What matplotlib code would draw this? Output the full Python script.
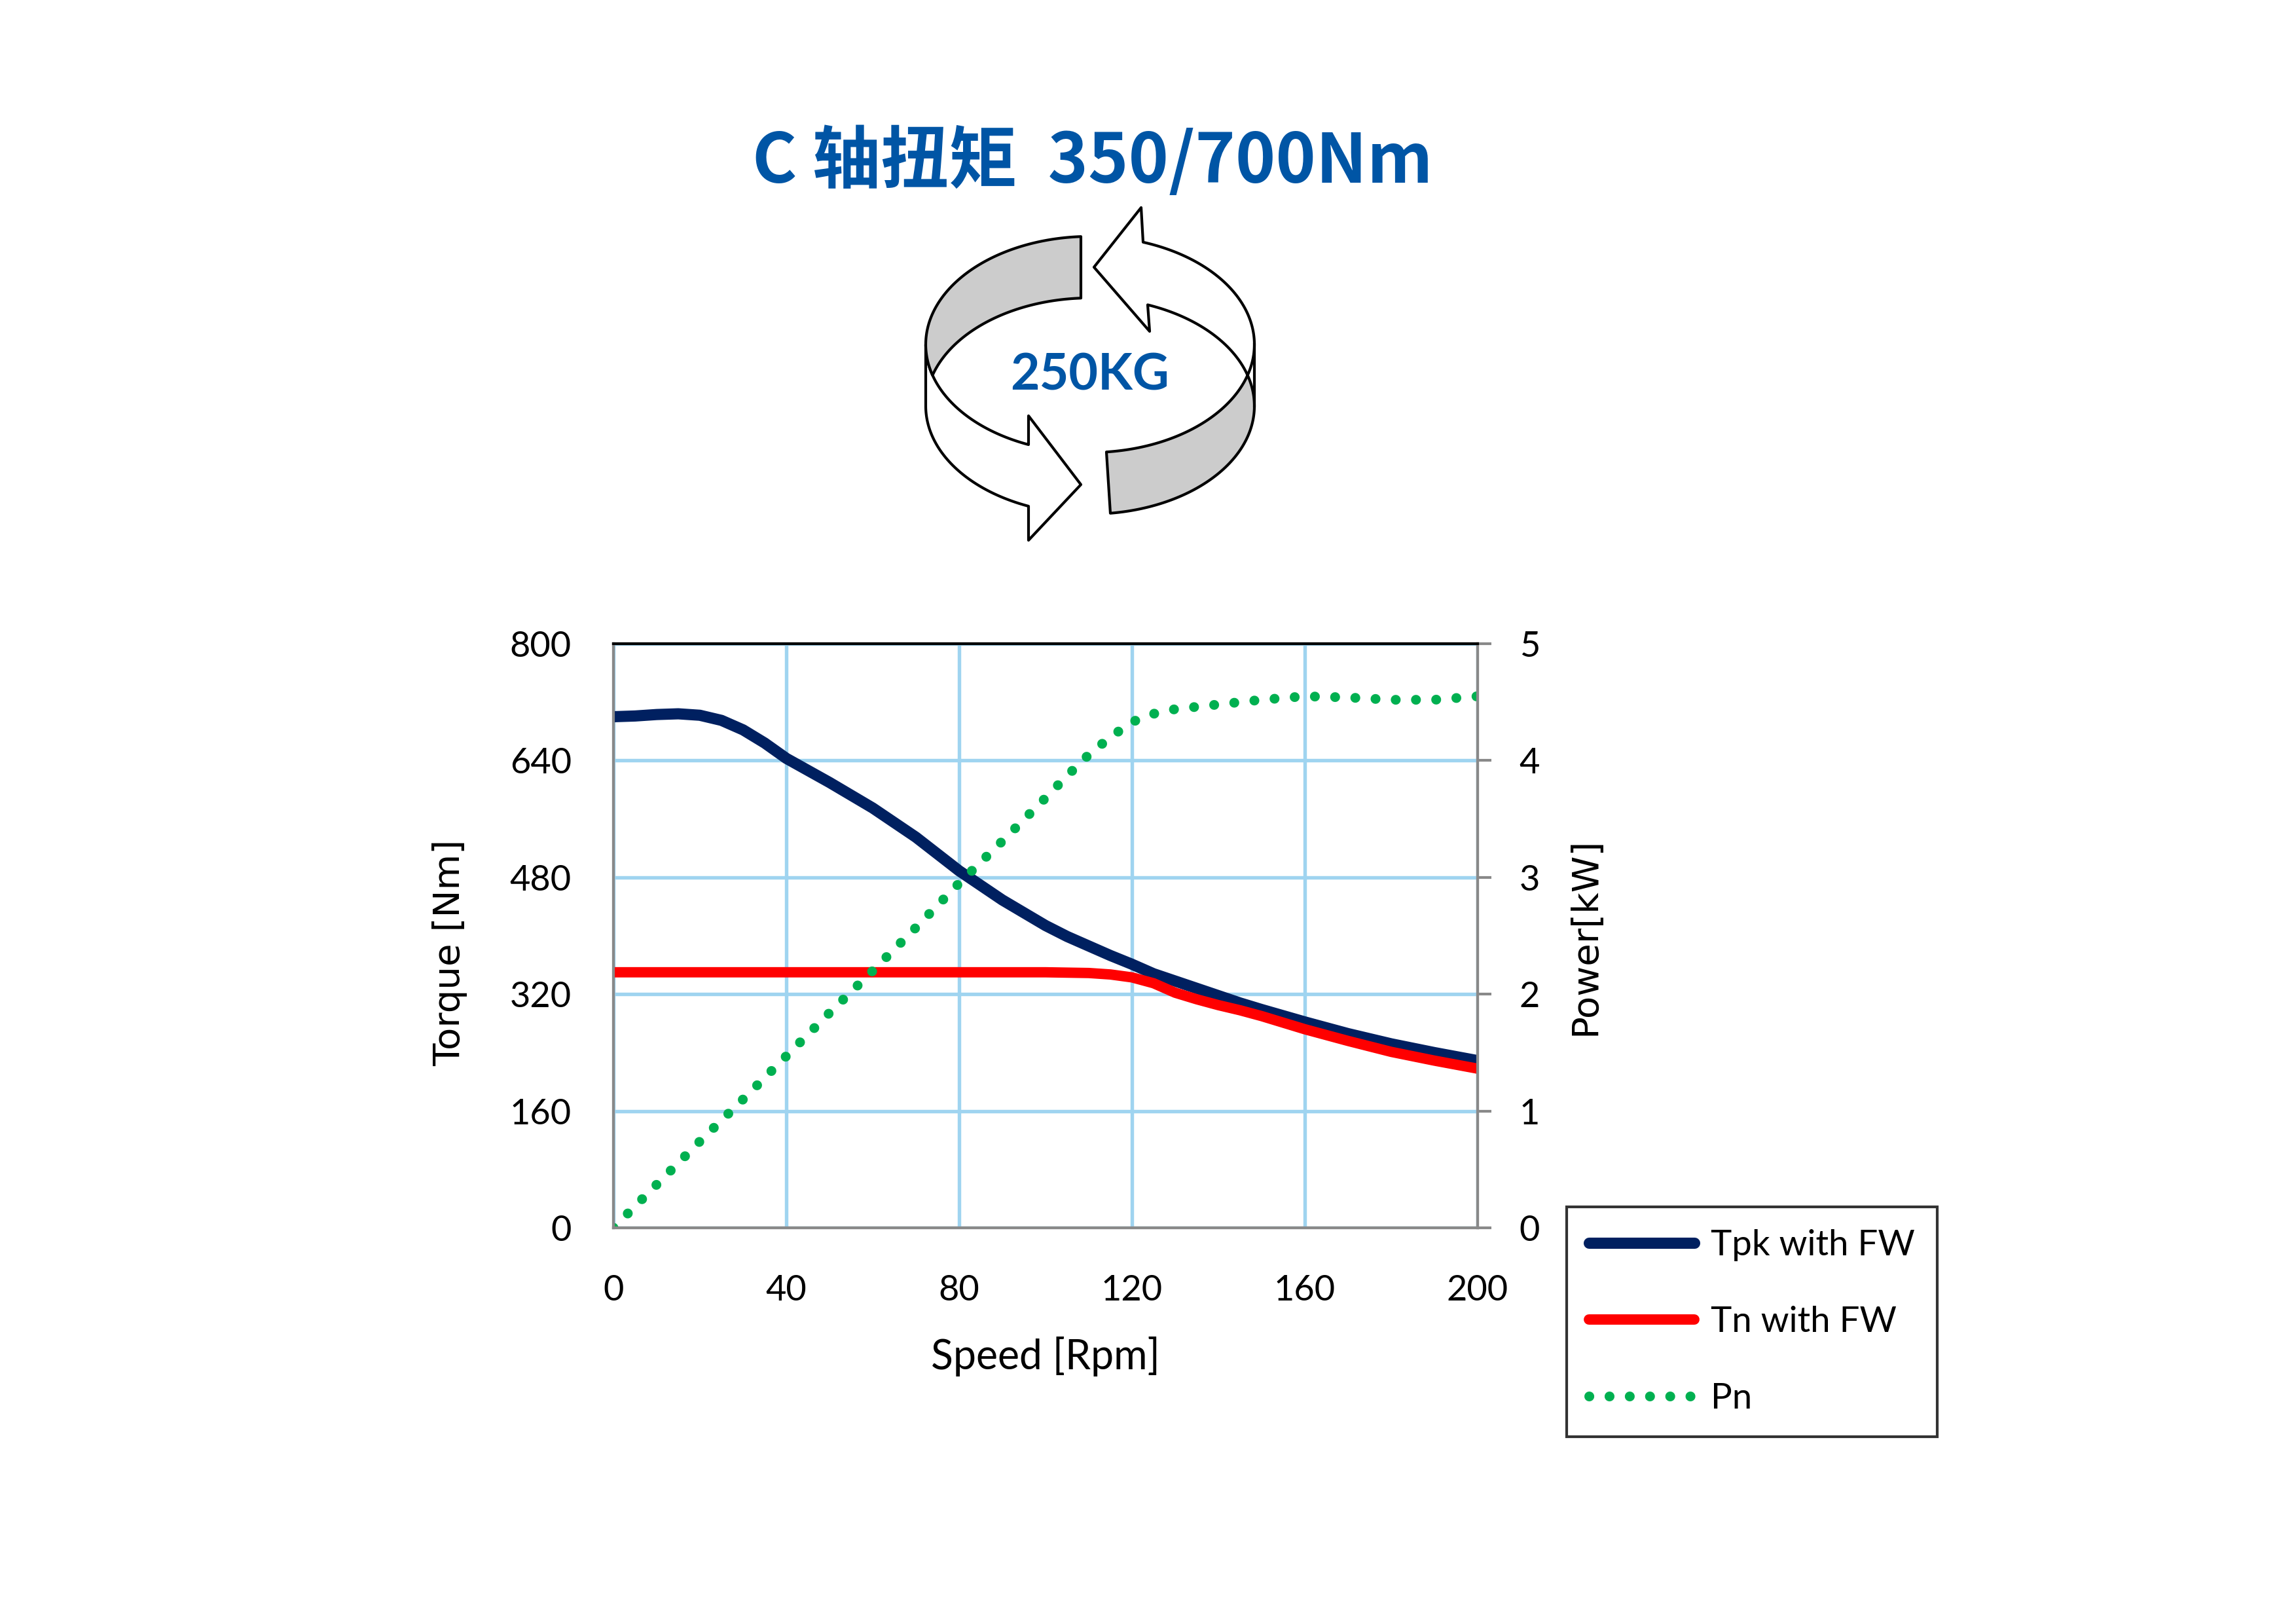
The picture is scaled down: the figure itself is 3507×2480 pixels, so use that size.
import numpy as np
import matplotlib.pyplot as plt
from matplotlib.patches import Polygon

plt.rcParams["font.family"] = ["Lato", "DejaVu Sans"]

W, H, DPI = 3507, 2480, 300

# curves
speed = [0, 5, 10, 15, 20, 25, 30, 35, 40, 50, 60, 70, 80, 90, 100, 105,
         110, 115, 120, 125, 130, 135, 140, 145, 150, 160, 170, 180, 190, 200]
tpk = [700, 701, 703, 704, 702, 695, 682, 664, 643, 610, 575, 535, 489, 449,
       414, 399, 386, 373, 361, 348, 338, 328, 318, 308, 299, 282, 266, 252,
       240, 229]
tn = [350, 350, 350, 350, 350, 350, 350, 350, 350, 350, 350, 350, 350, 350,
      350, 349.5, 349, 347, 343, 335, 322, 313, 305, 298, 290, 272, 256, 241,
      229, 218]
power_speed = [0, 10, 20, 30, 40, 50, 60, 70, 80, 90, 100, 105, 110, 115,
               120, 125, 130, 140, 150, 160, 170, 180, 190, 200]
pn = [0, 0.37, 0.74, 1.10, 1.47, 1.84, 2.20, 2.57, 2.95, 3.31, 3.68, 3.87,
      4.05, 4.20, 4.33, 4.40, 4.44, 4.48, 4.52, 4.55, 4.54, 4.52, 4.52, 4.55]

speed_ticks = [0, 40, 80, 120, 160, 200]
torque_ticks = [0, 160, 320, 480, 640, 800]
power_ticks = [0, 1, 2, 3, 4, 5]

BLUE = "#0055A5"
GRID = "#9FD4F0"
SPINE = "#898989"


def fx(px):
    return px / W


def fy(py):
    return 1 - py / H


fig = plt.figure(figsize=(W / DPI, H / DPI), dpi=DPI)

# --- rotating-arrow decoration, drawn in pixel coordinates ---
deco = fig.add_axes([0, 0, 1, 1])
deco.set_xlim(0, W)
deco.set_ylim(H, 0)
deco.axis("off")

CX, CY, A, B, HB = 1665, 526, 251, 165, 94
S = np.arcsin(HB / (2 * B))


def arc(t0, t1, dy=0, n=90):
    t = np.linspace(t0, t1, n)
    return np.column_stack([CX + A * np.cos(t), CY + dy + B * np.sin(t)])


def t_back(x):
    return 2 * np.pi - np.arccos((x - CX) / A)


def t_front(x):
    return np.arccos((x - CX) / A)


pi = np.pi
gray_ul = np.vstack([arc(pi, t_back(1651)), arc(t_back(1651), pi + S, HB),
                     arc(pi - S, pi)])
white_l = np.vstack([arc(pi, t_front(1571)),
                     [[1571, 635], [1651, 740], [1571, 825]],
                     arc(t_front(1571), pi, HB)])
white_ur = np.vstack([arc(t_back(1746), 2 * pi), arc(0, S),
                      arc(2 * pi - S, t_back(1753), HB),
                      [[1756, 506], [1671, 408], [1743, 317]]])
gray_lr = np.vstack([arc(S, t_front(1690)), arc(t_front(1696), 0, HB),
                     arc(2 * pi, 2 * pi - S, HB)])

for pts, face in ((white_l, "white"), (white_ur, "white"),
                  (gray_ul, "#CCCCCC"), (gray_lr, "#CCCCCC")):
    deco.add_patch(Polygon(pts, closed=True, facecolor=face, edgecolor="black",
                           linewidth=1.0, joinstyle="round"))
deco.plot([CX + A, CX + A], [CY, CY + HB], color="black", lw=1.0)

deco.text(1665, 595, "250KG", ha="center", va="baseline", fontsize=18.5,
          fontweight="bold", color=BLUE, family=["Lato", "DejaVu Sans"])

fig.text(fx(1669), fy(279.5), "C 轴扭矩  350/700Nm", ha="center",
         va="baseline", fontsize=25, fontweight="bold", color=BLUE,
         family=["Noto Sans CJK SC", "DejaVu Sans"])

# --- chart ---
ax = fig.add_axes([fx(937), fy(1875), (2257 - 937) / W, (1875 - 983) / H])
ax.plot(speed, tpk, color="#002060", lw=4.1, solid_capstyle="round",
        label="Tpk with FW", zorder=3)
ax.plot(speed, tn, color="#FF0000", lw=3.8, solid_capstyle="round",
        label="Tn with FW", zorder=4)
ax.set_xlim(0, 200)
ax.set_ylim(0, 800)
ax.set_xticks(speed_ticks)
ax.set_yticks(torque_ticks)
ax.grid(True, color=GRID, lw=1.3)
ax.set_axisbelow(True)
ax.tick_params(axis="y", length=0, labelsize=13, pad=15.4)
ax.tick_params(axis="x", length=0, labelsize=13, pad=17)

ax2 = ax.twinx()
ax2.plot(power_speed, pn, color="#00B050", lw=3.6,
         linestyle=(0, (0.01, 2.05)), dash_capstyle="round", label="Pn")
ax2.set_ylim(0, 5)
ax2.set_yticks(power_ticks)
ax2.tick_params(axis="y", length=5, width=1, color=SPINE, labelsize=13,
                pad=10.3)

for a in (ax, ax2):
    for side in ("left", "bottom", "right"):
        a.spines[side].set_color(SPINE)
        a.spines[side].set_linewidth(1.0)
    a.spines["top"].set_color("black")
    a.spines["top"].set_linewidth(1.0)

ax.set_xlabel("Speed [Rpm]", fontsize=15, va="center")
ax.xaxis.set_label_coords(0.5, (1875 - 2071) / 892)
ax.set_ylabel("Torque [Nm]", fontsize=13.5, va="center",
              family=["DejaVu Sans"])
ax.yaxis.set_label_coords((687 - 937) / 1320, (1875 - 1455) / 892)
ax2.set_ylabel("Power[kW]", fontsize=13.5, va="center", rotation=90,
               family=["DejaVu Sans"])
ax2.yaxis.set_label_coords((2421 - 937) / 1320, (1875 - 1430) / 892)

handles = ax.get_lines() + ax2.get_lines()
leg = fig.legend(handles, [h.get_label() for h in handles], loc="upper left",
                 bbox_to_anchor=(fx(2393), fy(1843)), fontsize=13.1,
                 frameon=True, fancybox=False, edgecolor="black",
                 borderpad=0.63, labelspacing=1.24, handlelength=2.95,
                 handletextpad=0.45, borderaxespad=0)
leg.get_frame().set_linewidth(1.0)

fig.savefig("out.png", dpi=DPI)
